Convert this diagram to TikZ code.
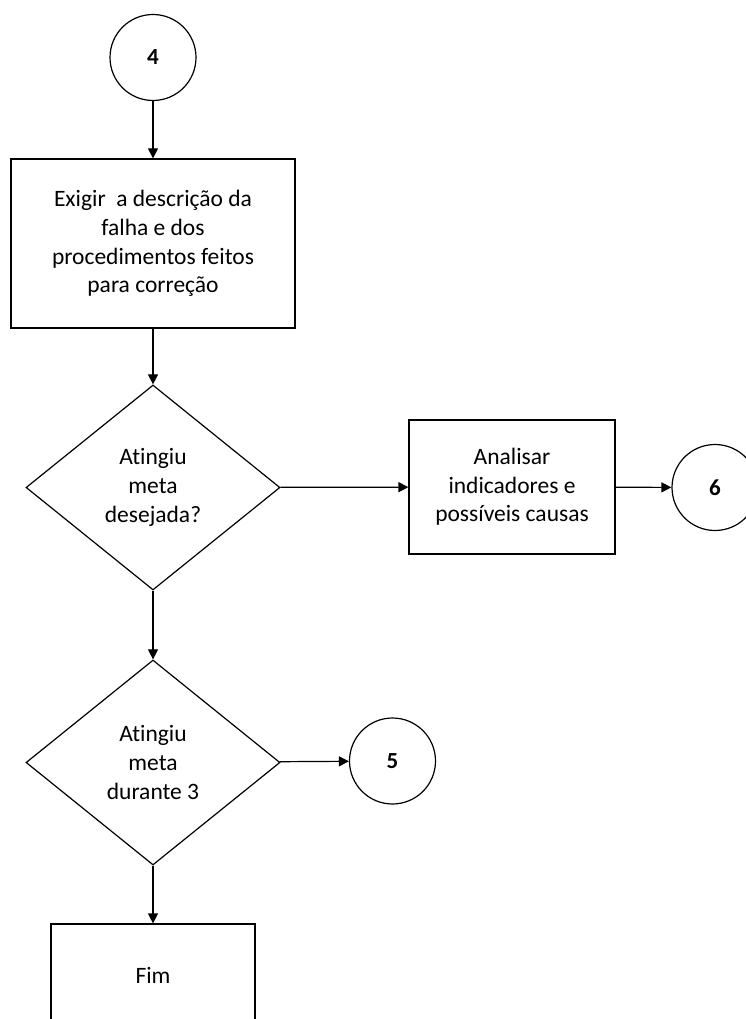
\documentclass[tikz,border=0pt]{standalone}
\usepackage{fontspec}
\setmainfont[Ligatures={NoCommon}]{Carlito}
\usetikzlibrary{shapes.geometric,arrows.meta}

\tikzset{
  base/.style={draw=black, line width=1.2pt, align=center, inner sep=0pt,
    font=\fontsize{23.5}{28.7}\selectfont},
  process/.style={base, rectangle},
  decision/.style={base, diamond},
  connector/.style={base, circle, minimum size=86pt, font=\fontsize{23}{26}\selectfont\bfseries},
  flow/.style={line width=1.2pt, -{Triangle[length=10pt,width=10pt]}}
}

\begin{document}
\begin{tikzpicture}[x=1pt,y=-1pt]
  \useasboundingbox (0,0) rectangle (746,1019);
  \clip (0,0) rectangle (746,1019);

  % connector circles
  \node[connector] (c4) at (153,57.5) {4};
  \node[connector] (c6) at (715,487.5) {6};
  \node[connector] (c5) at (392.5,761) {5};

  % process boxes
  \node[process, minimum width=284pt, minimum height=169pt] (exigir) at (153,243.5)
    {Exigir\ \ a descrição da\\falha e dos\\procedimentos feitos\\para correção};
  \node[process, minimum width=206pt, minimum height=134pt] (analisar) at (512,487)
    {Analisar\\indicadores e\\possíveis causas};
  \node[process, minimum width=204pt, minimum height=102pt] (fim) at (153,975) {Fim};

  % decisions
  \node[decision, minimum width=254pt, minimum height=205pt] (meta) at (153,487.5)
    {Atingiu\\meta\\desejada?};
  \node[decision, minimum width=254pt, minimum height=205pt] (durante) at (153,762.5)
    {Atingiu\\meta\\durante 3};

  % flow lines
  \draw[flow] (c4) -- (exigir);
  \draw[flow] (exigir) -- (meta);
  \draw[flow] (meta) -- (analisar);
  \draw[flow] (analisar) -- (c6);
  \draw[flow] (meta) -- (durante);
  \draw[flow] (durante) -- (c5);
  \draw[flow] (durante) -- (fim);
\end{tikzpicture}
\end{document}
